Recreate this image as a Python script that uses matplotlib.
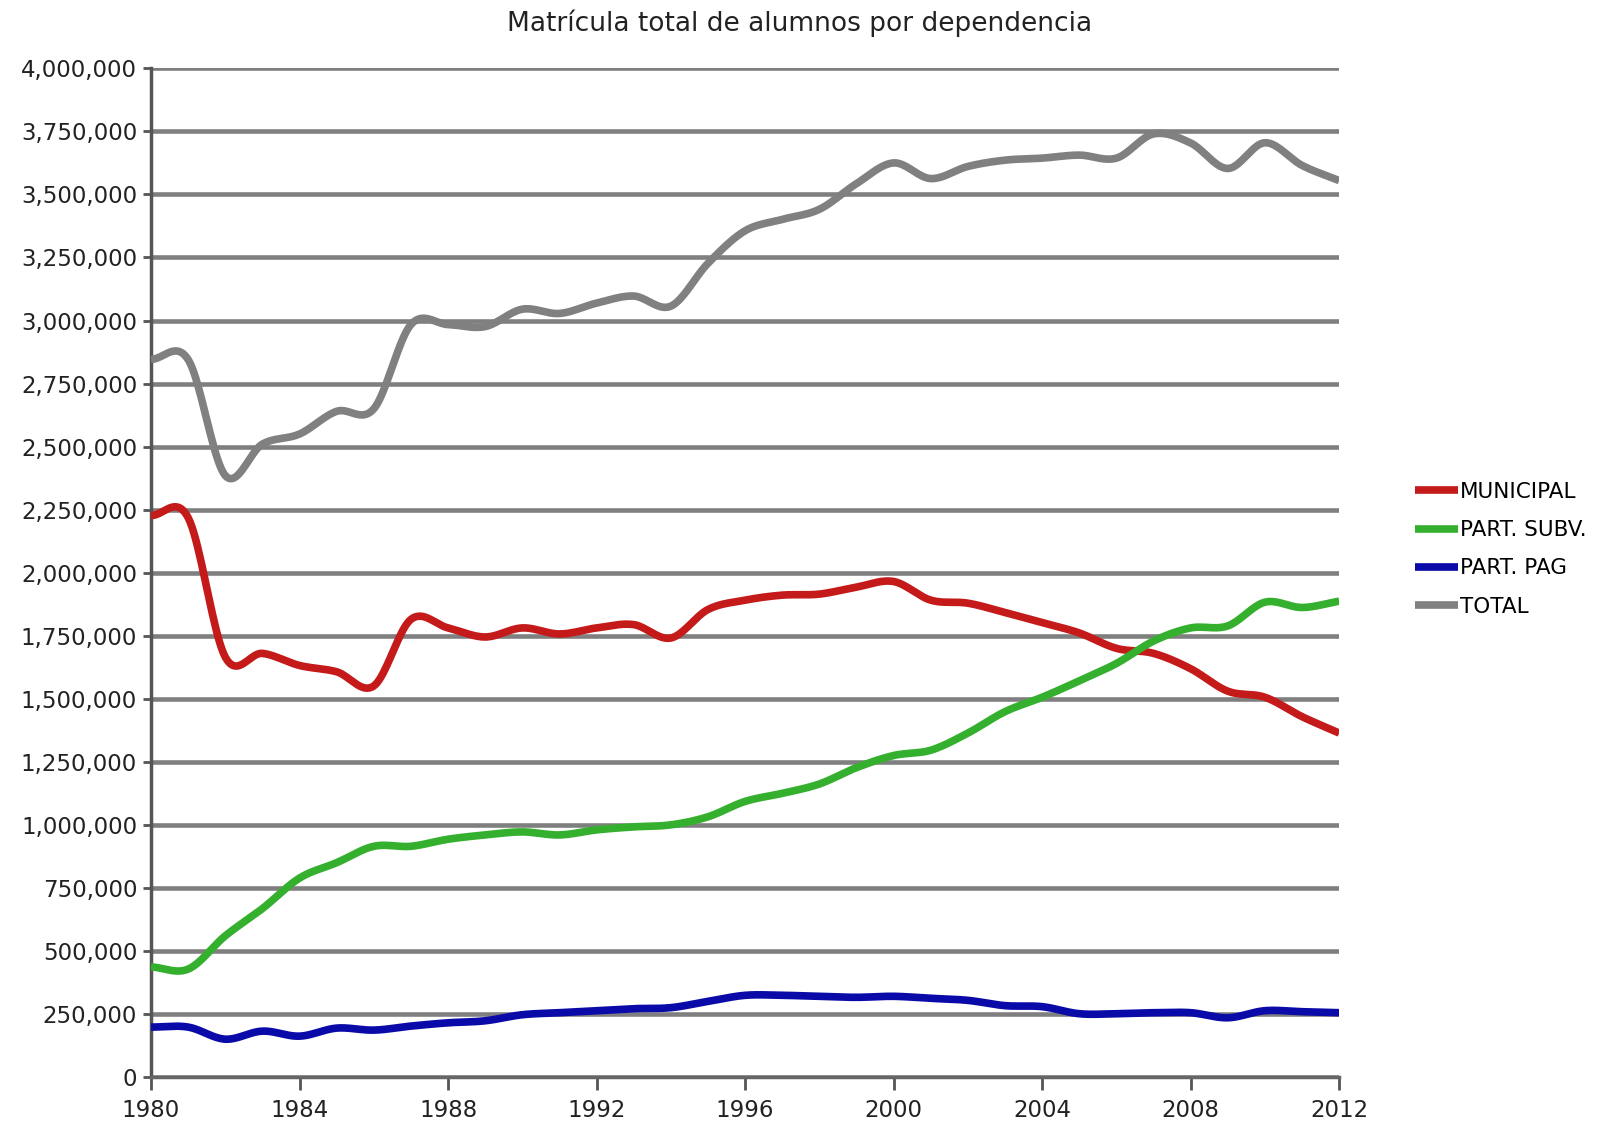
import numpy as np
import matplotlib
matplotlib.use("Agg")
import matplotlib.pyplot as plt
from matplotlib.ticker import FuncFormatter

years = list(range(1980, 2013))

municipal = [2227000, 2218000, 1665000, 1680000, 1632000, 1607000, 1551000, 1815000,
             1781000, 1745000, 1781000, 1757000, 1781000, 1794000, 1741000, 1854000,
             1891000, 1911000, 1915000, 1943000, 1965000, 1891000, 1879000, 1842000,
             1802000, 1761000, 1700000, 1680000, 1619000, 1530000, 1506000, 1429000,
             1364000]

part_subv = [437000, 428000, 560000, 668000, 789000, 850000, 915000, 915000,
             943000, 960000, 972000, 960000, 980000, 992000, 1000000, 1032000,
             1093000, 1125000, 1162000, 1227000, 1275000, 1296000, 1364000, 1449000,
             1506000, 1571000, 1640000, 1729000, 1781000, 1789000, 1883000, 1862000,
             1887000]

part_pag = [198000, 198000, 150000, 182000, 162000, 194000, 186000, 202000,
            215000, 223000, 247000, 255000, 263000, 271000, 275000, 300000,
            324000, 324000, 320000, 316000, 320000, 312000, 304000, 283000,
            279000, 251000, 251000, 255000, 255000, 235000, 263000, 259000,
            255000]

total = [2846000, 2845000, 2385000, 2510000, 2550000, 2640000, 2650000, 2984000,
         2984000, 2976000, 3045000, 3028000, 3069000, 3097000, 3057000, 3227000,
         3356000, 3401000, 3441000, 3543000, 3625000, 3563000, 3611000, 3636000,
         3644000, 3656000, 3644000, 3740000, 3704000, 3603000, 3705000, 3615000,
         3555000]

series_labels = ["MUNICIPAL", "PART. SUBV.", "PART. PAG", "TOTAL"]
series_colors = ["#c41a1a", "#35b02e", "#0a0aa8", "#808080"]
year_ticks = list(range(1980, 2013, 4))
value_ticks = list(range(0, 4000001, 250000))


def smooth(x, y, steps=20):
    # Catmull-Rom style curve through every point (like Excel's smoothed line)
    x = np.asarray(x, dtype=float)
    y = np.asarray(y, dtype=float)
    px = np.concatenate([[2 * x[0] - x[1]], x, [2 * x[-1] - x[-2]]])
    py = np.concatenate([[2 * y[0] - y[1]], y, [2 * y[-1] - y[-2]]])
    out_x, out_y = [], []
    t = np.linspace(0, 1, steps, endpoint=False)
    for i in range(1, len(px) - 2):
        for arr, out in ((px, out_x), (py, out_y)):
            p0, p1, p2, p3 = arr[i - 1], arr[i], arr[i + 1], arr[i + 2]
            seg = 0.5 * ((2 * p1) + (-p0 + p2) * t
                         + (2 * p0 - 5 * p1 + 4 * p2 - p3) * t ** 2
                         + (-p0 + 3 * p1 - 3 * p2 + p3) * t ** 3)
            out.extend(seg)
    out_x.append(x[-1])
    out_y.append(y[-1])
    return np.array(out_x), np.array(out_y)


fig = plt.figure(figsize=(16, 11.28), dpi=100)
ax = fig.add_axes([0.0944, 0.0452, 0.7426, 0.8942])

for values, label, color in zip([municipal, part_subv, part_pag, total],
                                series_labels, series_colors):
    sx, sy = smooth(years, values)
    ax.plot(sx, sy, color=color, linewidth=5.5, label=label,
            solid_capstyle="butt", zorder=3)

ax.set_xlim(1980, 2012)
ax.set_ylim(0, 4000000)
ax.set_xticks(year_ticks)
ax.set_yticks(value_ticks)
ax.yaxis.set_major_formatter(FuncFormatter(lambda v, p: f"{int(v):,}"))

ax.grid(axis="y", color="#7f7f7f", linewidth=3.3, zorder=1)
ax.grid(axis="x", visible=False)
ax.set_axisbelow(True)

for side in ["top", "right"]:
    ax.spines[side].set_visible(False)
ax.spines["left"].set_color("#555555")
ax.spines["left"].set_linewidth(2.5)
ax.spines["bottom"].set_color("#666666")
ax.spines["bottom"].set_linewidth(2.5)

ax.tick_params(axis="y", direction="out", length=6, width=2, color="#555555",
               labelsize=16.5, labelcolor="#222222", pad=4)
ax.tick_params(axis="x", direction="out", length=9, width=2, color="#555555",
               labelsize=16.5, labelcolor="#222222", pad=7)

# title is centred on the whole figure, not on the plot area
fig.suptitle("Matrícula total de alumnos por dependencia", x=0.5, y=0.979,
             va="center", fontsize=19, color="#222222")

fig.legend(loc="center left", bbox_to_anchor=(0.879, 0.513), frameon=False,
           fontsize=15.5, handlelength=2.0, handletextpad=0.1, labelspacing=0.85,
           borderaxespad=0)

plt.savefig("out.png", dpi=100)
plt.close()
